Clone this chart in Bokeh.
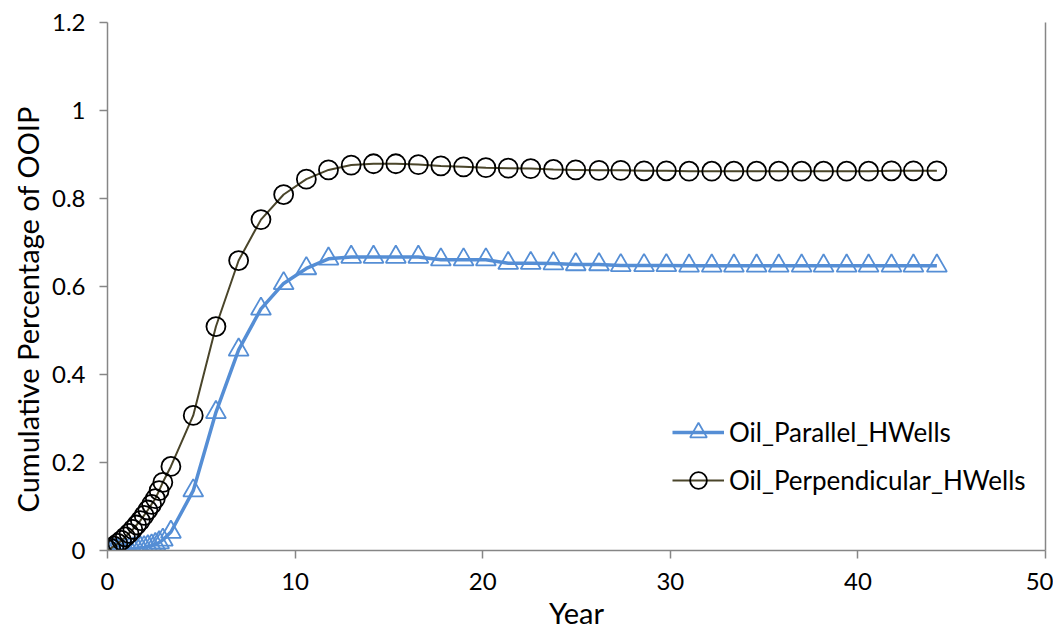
from bokeh.plotting import figure
from bokeh.models import FixedTicker, LinearAxis, Range1d, Legend, LegendItem, Title
from bokeh.embed import file_html
from bokeh.resources import INLINE

years = [0.0, 0.17, 0.35, 0.55, 0.75, 0.95, 1.15, 1.35, 1.55, 1.75, 1.95, 2.15,
         2.35, 2.55, 2.75, 2.95,
         3.38, 4.57, 5.78, 6.99, 8.18, 9.39, 10.60, 11.78, 12.99, 14.18, 15.37,
         16.57, 17.77, 18.98, 20.17, 21.36, 22.56, 23.77, 24.96, 26.20, 27.36,
         28.60, 29.79, 31.00, 32.21, 33.39, 34.60, 35.78, 37.00, 38.17, 39.40,
         40.57, 41.79, 42.96, 44.21]

oil_parallel = [0.000, 0.000, 0.001, 0.001, 0.002, 0.002, 0.003, 0.004, 0.005,
                0.006, 0.007, 0.009, 0.011, 0.014, 0.018, 0.024,
                0.042, 0.136, 0.314, 0.456, 0.549, 0.607, 0.641, 0.663, 0.667,
                0.667, 0.667, 0.667, 0.661, 0.661, 0.661, 0.653, 0.653, 0.652,
                0.650, 0.650, 0.648, 0.648, 0.648, 0.647, 0.647, 0.647, 0.647,
                0.647, 0.647, 0.647, 0.647, 0.647, 0.647, 0.647, 0.647]

oil_perpendicular = [0.002, 0.005, 0.010, 0.016, 0.023, 0.031, 0.039, 0.048,
                     0.058, 0.068, 0.080, 0.092, 0.105, 0.118, 0.136, 0.155,
                     0.191, 0.307, 0.509, 0.659, 0.752, 0.809, 0.844, 0.865,
                     0.876, 0.879, 0.879, 0.877, 0.874, 0.872, 0.870, 0.869,
                     0.868, 0.866, 0.865, 0.864, 0.864, 0.863, 0.863, 0.862,
                     0.862, 0.862, 0.862, 0.862, 0.862, 0.862, 0.862, 0.862,
                     0.863, 0.863, 0.863]

x_ticks = [0, 10, 20, 30, 40, 50]
x_tick_labels = ["0", "10", "20", "30", "40", "50"]
y_ticks = [0, 0.2, 0.4, 0.6, 0.8, 1.0, 1.2]
y_tick_labels = ["0", "0.2", "0.4", "0.6", "0.8", "1", "1.2"]

series_names = ["Oil_Parallel_HWells", "Oil_Perpendicular_HWells"]
x_title = "Year"
y_title = "Cumulative Percentage of OOIP"

FONT = "Lato"
AXIS_COLOR = "#868686"
BLUE = "#558ED5"
DARK = "#4A452A"

p = figure(width=1053, height=632,
           x_range=Range1d(0, 50), y_range=Range1d(0, 1.2),
           output_backend="svg", toolbar_location=None,
           min_border_left=107, min_border_right=8,
           min_border_top=22, min_border_bottom=82)
p.xgrid.visible = False
p.ygrid.visible = False
p.outline_line_color = None
p.background_fill_color = "white"
p.border_fill_color = "white"

for ax, ticks, labels in ((p.xaxis[0], x_ticks, x_tick_labels),
                          (p.yaxis[0], y_ticks, y_tick_labels)):
    ax.ticker = FixedTicker(ticks=ticks)
    ax.major_label_overrides = {t: l for t, l in zip(ticks, labels)}
    ax.axis_line_color = AXIS_COLOR
    ax.axis_line_width = 1.5
    ax.major_tick_line_color = AXIS_COLOR
    ax.major_tick_line_width = 1.5
    ax.major_tick_in = 0
    ax.major_tick_out = 8
    ax.minor_tick_line_color = None
    ax.major_label_text_font = FONT
    ax.major_label_text_font_size = "24px"
    ax.major_label_text_color = "black"
    ax.axis_label_text_font = FONT
    ax.axis_label_text_font_size = "29px"
    ax.axis_label_text_font_style = "normal"
    ax.axis_label_text_color = "black"

p.xaxis[0].axis_label = x_title
p.xaxis[0].major_label_standoff = 14
p.xaxis[0].axis_label_standoff = 2
p.yaxis[0].major_label_standoff = 14

ytitle = Title(text=y_title, align="left", offset=38, standoff=8,
               text_font=FONT, text_font_size="29px",
               text_font_style="normal", text_color="black")
p.add_layout(ytitle, "left")

right = LinearAxis(ticker=FixedTicker(ticks=[]), axis_line_color=AXIS_COLOR,
                   axis_line_width=1.5, major_tick_line_color=None,
                   minor_tick_line_color=None, major_label_text_font_size="0px",
                   major_label_standoff=0, major_tick_out=0, major_tick_in=0)
p.add_layout(right, "right")

l1 = p.line(years, oil_parallel, line_color=BLUE, line_width=3.5)
s1 = p.scatter(years, oil_parallel, marker="triangle", size=20,
               line_color=BLUE, line_width=1.8, fill_color=None)
l2 = p.line(years, oil_perpendicular, line_color=DARK, line_width=2)
s2 = p.scatter(years, oil_perpendicular, marker="circle", size=19,
               line_color="black", line_width=1.8, fill_color=None)

legend = Legend(items=[LegendItem(label=series_names[0], renderers=[l1, s1]),
                       LegendItem(label=series_names[1], renderers=[l2, s2])],
                location=(565, 49))
legend.background_fill_color = None
legend.border_line_color = None
legend.padding = 0
legend.margin = 0
legend.spacing = 6
legend.glyph_width = 52
legend.glyph_height = 42
legend.label_height = 42
legend.label_standoff = 5
legend.label_text_font = FONT
legend.label_text_font_size = "26px"
legend.label_text_color = "black"
p.add_layout(legend)

open("out.html", "w").write(file_html(p, INLINE))
